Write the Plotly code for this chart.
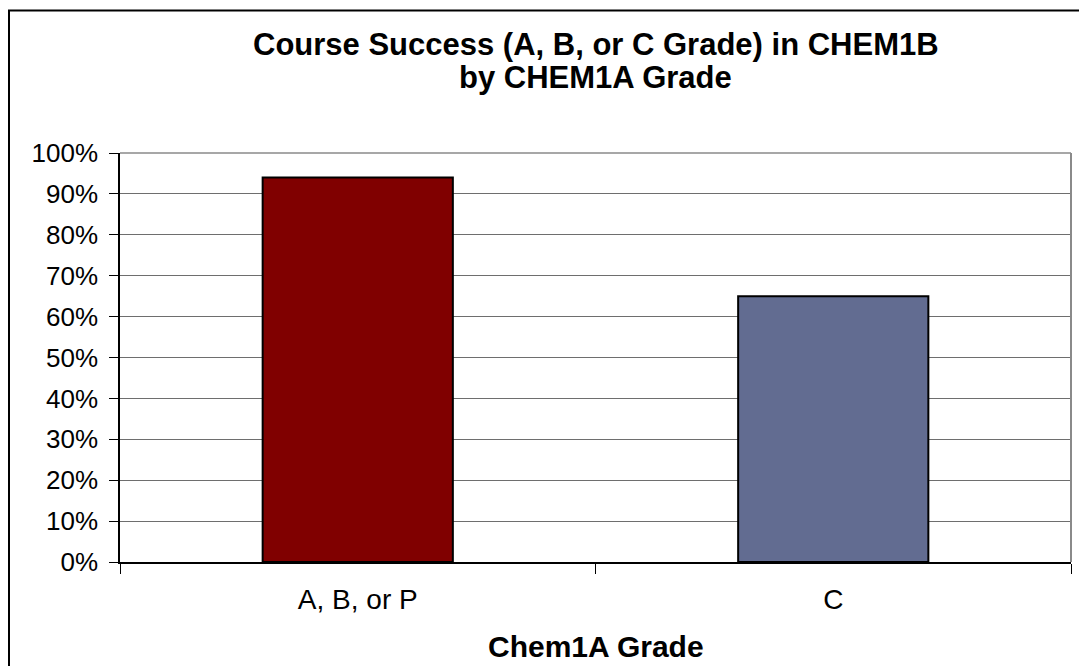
import plotly.graph_objects as go

categories = ["A, B, or P", "C"]
success_rate = [0.94, 0.65]
bar_colors = ["#800000", "#626C91"]
y_ticks = [0, 0.1, 0.2, 0.3, 0.4, 0.5, 0.6, 0.7, 0.8, 0.9, 1.0]
y_tick_labels = ["0%", "10%", "20%", "30%", "40%", "50%", "60%", "70%", "80%", "90%", "100%"]
title_lines = ["Course Success (A, B, or C Grade) in CHEM1B", "by CHEM1A Grade"]
x_title = "Chem1A Grade"

# page body has an 8px margin, so the figure is sized/offset to compensate
W, H = 1079, 658
L, R, T, B = 112, 16, 145, 104

px_w = W - L - R
px_h = H - T - B

def xp(px):
    return (px - L) / px_w

def yp(py):
    return (H - B - py) / px_h

fig = go.Figure()
fig.add_trace(go.Bar(
    x=categories, y=success_rate,
    marker=dict(color=bar_colors, line=dict(color="#000000", width=2)),
    hoverinfo="skip",
))

annotations = [
    dict(text="<b>%s</b>" % title_lines[0], xref="paper", yref="paper", x=0.5, y=yp(37),
         xanchor="center", yanchor="middle", showarrow=False,
         font=dict(size=31, color="#000000")),
    dict(text="<b>%s</b>" % title_lines[1], xref="paper", yref="paper", x=0.5, y=yp(69),
         xanchor="center", yanchor="middle", showarrow=False,
         font=dict(size=31, color="#000000")),
    dict(text="<b>%s</b>" % x_title, xref="paper", yref="paper", x=0.5, y=yp(638),
         xanchor="center", yanchor="middle", showarrow=False,
         font=dict(size=30, color="#000000")),
]

fig.update_layout(
    width=W, height=H,
    margin=dict(l=L, r=R, t=T, b=B, pad=0),
    paper_bgcolor="white", plot_bgcolor="white",
    bargap=0.6,
    showlegend=False,
    font=dict(family="Liberation Sans, Arial, sans-serif", color="#000000"),
    xaxis=dict(
        showline=True, linecolor="#000000", linewidth=1.5,
        ticks="outside", tickson="boundaries", ticklen=10, tickcolor="#000000", tickwidth=1,
        tickfont=dict(size=28), ticklabelstandoff=12,
        showgrid=False,
    ),
    yaxis=dict(
        range=[0, 1.0],
        tickvals=y_ticks, ticktext=y_tick_labels,
        tickfont=dict(size=26), ticklabelstandoff=6,
        showline=True, linecolor="#000000", linewidth=1.5,
        ticks="outside", ticklen=9, tickcolor="#000000", tickwidth=1,
        showgrid=True, gridcolor="#6e6e6e", gridwidth=1,
        zeroline=False,
        fixedrange=True,
    ),
    annotations=annotations,
    shapes=[
        dict(type="line", xref="paper", yref="paper", x0=1, x1=1, y0=0, y1=1,
             line=dict(color="#8a8a8a", width=2)),
        dict(type="line", xref="paper", yref="paper", x0=0, x1=1, y0=1, y1=1,
             line=dict(color="#8a8a8a", width=1.5)),
        dict(type="rect", xref="paper", yref="paper",
             x0=xp(1), x1=xp(1200), y0=yp(2.5), y1=yp(800),
             line=dict(color="#000000", width=2), fillcolor="rgba(0,0,0,0)", layer="above"),
    ],
)

fig.write_html("out.html")
